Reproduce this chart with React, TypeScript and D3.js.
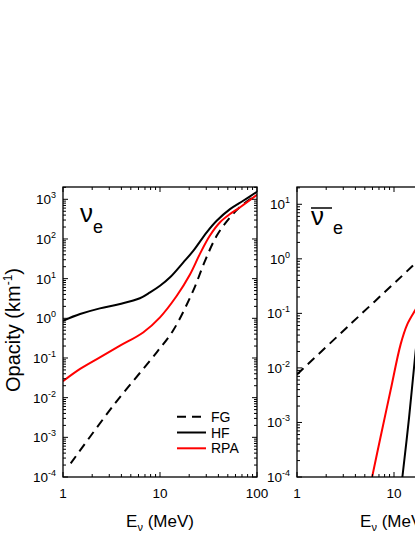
import React from "react";
import * as d3 from "d3";

// neutrino (nu_e) opacity
const nuHF_E = [1, 1.5, 2.4, 3.87, 6.2, 7.9, 10, 12.7, 17.4, 22, 30.3, 38.4, 52.7, 72, 100];
const nuHF = [0.87, 1.28, 1.78, 2.29, 3.2, 4.5, 6.6, 10.8, 25.7, 50, 147, 288, 565, 920, 1550];
const nuRPA_E = [1, 1.5, 2.4, 3.87, 6.7, 10, 14.9, 20.3, 25.8, 32.6, 41.6, 52.7, 67, 100];
const nuRPA = [0.026, 0.053, 0.104, 0.204, 0.44, 1.06, 3.7, 12.5, 42, 120, 263, 425, 630, 1300];
const nuFG_E = [1.2, 3.3, 9.25, 13.7, 22, 29.1, 38.4, 52.7, 69, 100];
const nuFG = [2.2e-4, 6.3e-3, 0.139, 0.5, 5, 28, 120, 350, 690, 1300];

// antineutrino panel (cut off on the right in the original)
const barFG_E = [1, 3.54, 15.4, 17];
const barFG = [0.0076, 0.063, 0.73, 0.87];
const barRPA_E = [5.95, 7.25, 9.2, 11.7, 13.7, 16.7, 18];
const barRPA = [1e-4, 5.3e-4, 3.8e-3, 0.027, 0.063, 0.118, 0.15];
const barHF_E = [12.2, 14.3, 16.7, 18];
const barHF = [1e-4, 1.23e-3, 0.02, 0.06];

const xTicks = [1, 10, 100];
const legendItems = ["FG", "HF", "RPA"];

const FONT = "'Liberation Sans', Arial, Helvetica, sans-serif";

type Series = { e: number[]; v: number[]; color: string; dashed?: boolean };

const Panel = ({ id, left, top, w, h, yMaxExp, yMinExp, yTopExp, series, bar, legend }: any) => {
  const x = d3.scaleLog().domain([1, 100]).range([left, left + w]);
  const y = d3.scaleLog().domain([Math.pow(10, yMinExp), Math.pow(10, yTopExp)]).range([top + h, top]);
  const line = d3
    .line<[number, number]>()
    .x((d) => x(d[0]))
    .y((d) => y(d[1]))
    .curve(d3.curveCatmullRom.alpha(0.5));

  const majY = d3.range(yMinExp, yMaxExp + 1);
  const minY: number[] = [];
  majY.forEach((k) => {
    for (let m = 2; m <= 9; m++) {
      const v = m * Math.pow(10, k);
      if (v <= Math.pow(10, yTopExp)) minY.push(v);
    }
  });
  const minX: number[] = [];
  [1, 10].forEach((b) => {
    for (let m = 2; m <= 9; m++) minX.push(m * b);
  });

  const bottom = top + h;
  const right = left + w;

  return (
    <g>
      <defs>
        <clipPath id={id}>
          <rect x={left} y={top} width={w} height={h} />
        </clipPath>
      </defs>
      <g clipPath={`url(#${id})`} fill="none">
        {series.map((s: Series, i: number) => (
          <path
            key={i}
            d={line(s.e.map((e, j) => [e, s.v[j]] as [number, number])) || ""}
            stroke={s.color}
            strokeWidth={2}
            strokeDasharray={s.dashed ? "9 6" : undefined}
          />
        ))}
      </g>
      {/* ticks, all pointing inward */}
      <g stroke="#000" strokeWidth={1}>
        {majY.map((k) => (
          <g key={"my" + k}>
            <line x1={left} x2={left + 5} y1={y(Math.pow(10, k))} y2={y(Math.pow(10, k))} />
            <line x1={right} x2={right - 5} y1={y(Math.pow(10, k))} y2={y(Math.pow(10, k))} />
          </g>
        ))}
        {minY.map((v, i) => (
          <g key={"ny" + i}>
            <line x1={left} x2={left + 3} y1={y(v)} y2={y(v)} />
            <line x1={right} x2={right - 3} y1={y(v)} y2={y(v)} />
          </g>
        ))}
        {xTicks.map((t) => (
          <g key={"mx" + t}>
            <line x1={x(t)} x2={x(t)} y1={bottom} y2={bottom - 5} />
            <line x1={x(t)} x2={x(t)} y1={top} y2={top + 5} />
          </g>
        ))}
        {minX.map((t) => (
          <g key={"nx" + t}>
            <line x1={x(t)} x2={x(t)} y1={bottom} y2={bottom - 3} />
            <line x1={x(t)} x2={x(t)} y1={top} y2={top + 3} />
          </g>
        ))}
      </g>
      <rect x={left} y={top} width={w} height={h} fill="none" stroke="#000" strokeWidth={1.3} />
      {/* tick labels */}
      <g fontFamily={FONT} fill="#000">
        {majY.map((k) => (
          <text key={"ly" + k} x={left - 7} y={y(Math.pow(10, k)) + 5} textAnchor="end" fontSize={13.5}>
            <tspan>10</tspan>
            <tspan fontSize={9} dy={-6}>
              {k}
            </tspan>
          </text>
        ))}
        {xTicks.map((t) => (
          <text key={"lx" + t} x={x(t)} y={bottom + 21} textAnchor="middle" fontSize={13.5}>
            {t}
          </text>
        ))}
        <text x={(left + right) / 2} y={bottom + 50} textAnchor="middle" fontSize={17}>
          <tspan>E</tspan>
          <tspan fontSize={11} dy={4}>
            ν
          </tspan>
          <tspan dy={-4}> (MeV)</tspan>
        </text>
      </g>
      {/* particle label */}
      <g fontFamily={FONT} fill="#000">
        {bar && <line x1={left + 14} x2={left + 35} y1={top + 21} y2={top + 21} stroke="#000" strokeWidth={1.5} />}
        <text x={left + (bar ? 14 : 17)} y={top + (bar ? 38 : 35)} fontSize={26}>
          ν
        </text>
        <text x={left + (bar ? 36 : 30)} y={top + (bar ? 47 : 46)} fontSize={18}>
          e
        </text>
      </g>
      {legend && (
        <g fontFamily={FONT}>
          {legendItems.map((name, i) => {
            const s: Series = series.find((d: any) => d.name === name);
            const ly = 416.7 + i * 15.8;
            return (
              <g key={name}>
                <line
                  x1={177}
                  x2={206}
                  y1={ly}
                  y2={ly}
                  stroke={s.color}
                  strokeWidth={2}
                  strokeDasharray={s.dashed ? "9 6" : undefined}
                />
                <text x={211} y={ly + 5} fontSize={14} fill="#000">
                  {name}
                </text>
              </g>
            );
          })}
        </g>
      )}
    </g>
  );
};

export default function App() {
  const nuSeries = [
    { name: "FG", e: nuFG_E, v: nuFG, color: "#000", dashed: true },
    { name: "HF", e: nuHF_E, v: nuHF, color: "#000" },
    { name: "RPA", e: nuRPA_E, v: nuRPA, color: "#ff0000" },
  ];
  const barSeries = [
    { name: "FG", e: barFG_E, v: barFG, color: "#000", dashed: true },
    { name: "HF", e: barHF_E, v: barHF, color: "#000" },
    { name: "RPA", e: barRPA_E, v: barRPA, color: "#ff0000" },
  ];
  return (
    <svg
      width={415}
      height={537}
      style={{ position: "absolute", left: 0, top: 0, background: "#fff" }}
    >
      <Panel id="c1" left={63} top={187} w={194} h={290} yMinExp={-4} yMaxExp={3} yTopExp={3.31} series={nuSeries} legend />
      <Panel id="c2" left={297} top={187} w={194} h={290} yMinExp={-4} yMaxExp={1} yTopExp={1.317} series={barSeries} bar />
      <text
        transform="translate(20,330) rotate(-90)"
        textAnchor="middle"
        fontFamily={FONT}
        fontSize={20}
        fill="#000"
      >
        <tspan>Opacity (km</tspan>
        <tspan fontSize={12} dy={-8}>
          -1
        </tspan>
        <tspan dy={8}>)</tspan>
      </text>
    </svg>
  );
}
